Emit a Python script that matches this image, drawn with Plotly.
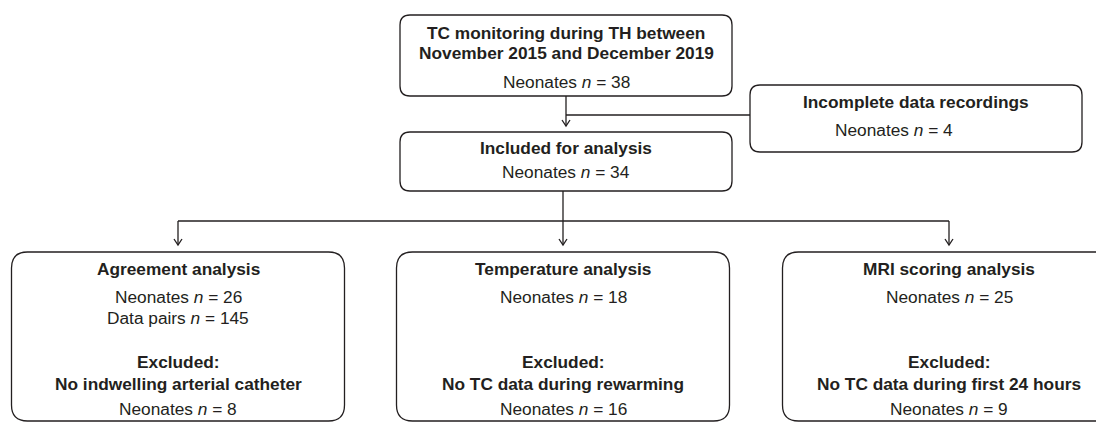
import plotly.graph_objects as go

# ---- data (labels and counts) ----
top_title = ["TC monitoring during TH between", "November 2015 and December 2019"]
n_total = 38
incomplete_title = "Incomplete data recordings"
n_incomplete = 4
included_title = "Included for analysis"
n_included = 34
branch_titles = ["Agreement analysis", "Temperature analysis", "MRI scoring analysis"]
branch_n = [26, 18, 25]
branch_pairs = [145, None, None]
excl_reasons = ["No indwelling arterial catheter", "No TC data during rewarming",
                "No TC data during first 24 hours"]
excl_n = [8, 16, 9]

# ---- geometry (pixel layout) ----
W, H = 1104, 423
PAGE_OFF = 8  # default body margin of the html page
INK = "#231f20"
FONT = "Liberation Sans, Arial, sans-serif"
FS = 17.3
LW = 1.3

top_box = (400, 15, 732, 96)
inc_box = (750, 85, 1082, 152)
incl_box = (400, 132, 732, 191)
branch_cx = [178, 563, 949]
branch_w = 333
branch_top, branch_bot = 252, 421
branch_line_y = 221

shapes = []
annotations = []


def rrect(x0, y0, x1, y1, r):
    p = (f"M {x0+r},{y0} L {x1-r},{y0} Q {x1},{y0} {x1},{y0+r} "
         f"L {x1},{y1-r} Q {x1},{y1} {x1-r},{y1} L {x0+r},{y1} "
         f"Q {x0},{y1} {x0},{y1-r} L {x0},{y0+r} Q {x0},{y0} {x0+r},{y0} Z")
    shapes.append(dict(type="path", path=p, xref="x", yref="y",
                       line=dict(color=INK, width=LW), fillcolor="white"))


def line(x0, y0, x1, y1):
    shapes.append(dict(type="line", x0=x0, y0=y0, x1=x1, y1=y1, xref="x", yref="y",
                       line=dict(color=INK, width=LW)))


def arrow_down(x, y0, y1):
    line(x, y0, x, y1)
    p = f"M {x-4},{y1-6} L {x},{y1} L {x+4},{y1-6}"
    shapes.append(dict(type="path", path=p, xref="x", yref="y",
                       line=dict(color=INK, width=LW)))


def text(x, y, s, bold=False):
    if bold:
        s = f"<b>{s}</b>"
    annotations.append(dict(x=x, y=y, xref="x", yref="y", text=s, showarrow=False,
                            xanchor="center", yanchor="middle",
                            font=dict(family=FONT, size=FS, color=INK)))


def neon(n):
    return f"Neonates <i>n</i> = {n}"


# top box
rrect(*top_box, 10)
cx = (top_box[0] + top_box[2]) / 2
text(cx, 33, top_title[0], True)
text(cx, 53, top_title[1], True)
text(cx, 82, neon(n_total))

# arrow top -> included, side branch to incomplete
arrow_down(566, top_box[3], incl_box[1] - 6)
line(566, 115, inc_box[0], 115)
rrect(*inc_box, 10)
icx = (inc_box[0] + inc_box[2]) / 2
text(icx, 102, incomplete_title, True)
text(icx - 22, 130, neon(n_incomplete))

# included box
rrect(*incl_box, 10)
text(cx, 148, included_title, True)
text(cx, 172, neon(n_included))

# branch lines
line(563, incl_box[3], 563, branch_line_y)
line(branch_cx[0], branch_line_y, branch_cx[2], branch_line_y)
for bx in branch_cx:
    arrow_down(bx, branch_line_y, branch_top - 7)

# bottom boxes
for i, bx in enumerate(branch_cx):
    rrect(bx - branch_w / 2, branch_top, bx + branch_w / 2, branch_bot, 16)
    text(bx, 269, branch_titles[i], True)
    text(bx, 297, neon(branch_n[i]))
    if branch_pairs[i] is not None:
        text(bx, 318, f"Data pairs <i>n</i> = {branch_pairs[i]}")
    text(bx, 362, "Excluded:", True)
    text(bx, 384, excl_reasons[i], True)
    text(bx, 409, neon(excl_n[i]))

fig = go.Figure()
fig.update_layout(
    width=W - PAGE_OFF, height=H - PAGE_OFF, margin=dict(l=0, r=0, t=0, b=0),
    paper_bgcolor="white", plot_bgcolor="white",
    xaxis=dict(range=[PAGE_OFF, W], visible=False, fixedrange=True),
    yaxis=dict(range=[H, PAGE_OFF], visible=False, fixedrange=True),
    shapes=shapes, annotations=annotations, showlegend=False,
)
fig.write_html("out.html")
